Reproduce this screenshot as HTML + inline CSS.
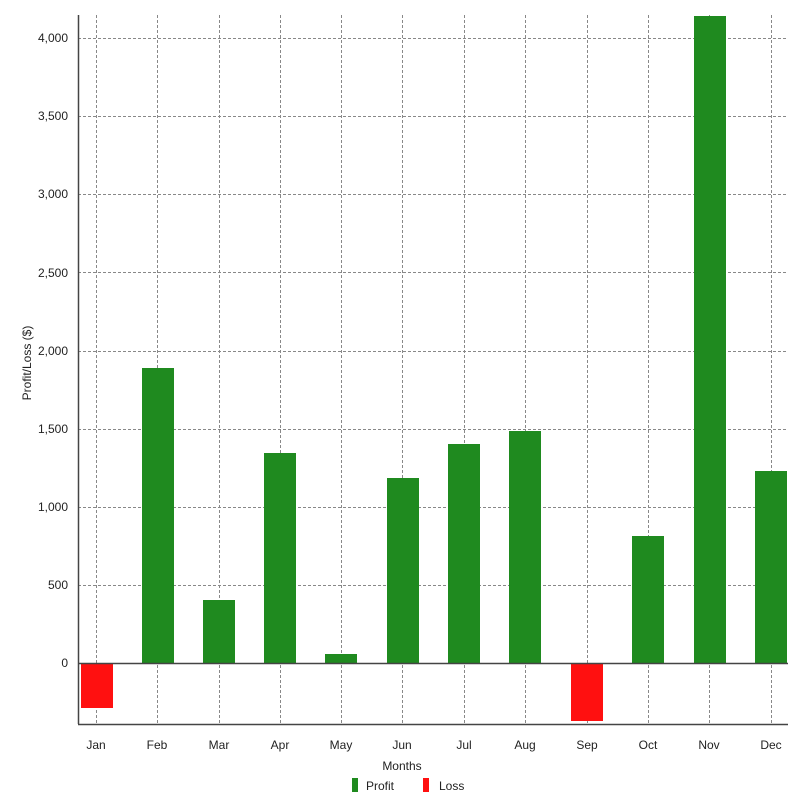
<!DOCTYPE html><html><head><style>body{margin:0;background:#fff}svg{font-family:"Liberation Sans",sans-serif}</style></head><body>
<svg width="802" height="801" xmlns="http://www.w3.org/2000/svg">
<g stroke="#888" stroke-dasharray="3,2" stroke-width="1">
<line x1="78" x2="788" y1="38.5" y2="38.5"/><line x1="78" x2="788" y1="116.5" y2="116.5"/><line x1="78" x2="788" y1="194.5" y2="194.5"/><line x1="78" x2="788" y1="272.5" y2="272.5"/><line x1="78" x2="788" y1="351.5" y2="351.5"/><line x1="78" x2="788" y1="429.5" y2="429.5"/><line x1="78" x2="788" y1="507.5" y2="507.5"/><line x1="78" x2="788" y1="585.5" y2="585.5"/>
<line x1="96.5" x2="96.5" y1="15" y2="724"/><line x1="157.5" x2="157.5" y1="15" y2="724"/><line x1="219.5" x2="219.5" y1="15" y2="724"/><line x1="280.5" x2="280.5" y1="15" y2="724"/><line x1="341.5" x2="341.5" y1="15" y2="724"/><line x1="402.5" x2="402.5" y1="15" y2="724"/><line x1="464.5" x2="464.5" y1="15" y2="724"/><line x1="525.5" x2="525.5" y1="15" y2="724"/><line x1="587.5" x2="587.5" y1="15" y2="724"/><line x1="648.5" x2="648.5" y1="15" y2="724"/><line x1="709.5" x2="709.5" y1="15" y2="724"/><line x1="771.5" x2="771.5" y1="15" y2="724"/>
</g>
<g fill="#1f8a1f">
<rect x="142" y="368" width="32" height="295"/><rect x="203" y="600" width="32" height="63"/><rect x="264" y="453" width="32" height="210"/><rect x="325" y="654" width="32" height="9"/><rect x="387" y="478" width="32" height="185"/><rect x="448" y="444" width="32" height="219"/><rect x="509" y="431" width="32" height="232"/><rect x="632" y="536" width="32" height="127"/><rect x="694" y="16" width="32" height="647"/><rect x="755" y="471" width="32" height="192"/>
</g>
<g fill="#ff1010"><rect x="81" y="663" width="32" height="45"/><rect x="571" y="663" width="32" height="58"/></g>
<line x1="78" x2="788" y1="663.5" y2="663.5" stroke="#444" stroke-width="1.5"/>
<line x1="78.5" x2="78.5" y1="15" y2="724" stroke="#444" stroke-width="1.5"/>
<line x1="78" x2="788" y1="724.5" y2="724.5" stroke="#444" stroke-width="1.5"/>
<g font-size="12" fill="#222" text-anchor="end">
<text x="68" y="42">4,000</text><text x="68" y="120">3,500</text><text x="68" y="198">3,000</text><text x="68" y="277">2,500</text><text x="68" y="355">2,000</text><text x="68" y="433">1,500</text><text x="68" y="511">1,000</text><text x="68" y="589">500</text><text x="68" y="667">0</text>
</g>
<g font-size="12" fill="#222" text-anchor="middle">
<text x="96" y="749">Jan</text><text x="157" y="749">Feb</text><text x="219" y="749">Mar</text><text x="280" y="749">Apr</text><text x="341" y="749">May</text><text x="402" y="749">Jun</text><text x="464" y="749">Jul</text><text x="525" y="749">Aug</text><text x="587" y="749">Sep</text><text x="648" y="749">Oct</text><text x="709" y="749">Nov</text><text x="771" y="749">Dec</text>
<text x="402" y="770">Months</text>
<text transform="translate(31,363) rotate(-90)">Profit/Loss ($)</text>
</g>
<rect x="352" y="778" width="6" height="14" fill="#1f8a1f"/><text x="366" y="790" font-size="12" fill="#222">Profit</text>
<rect x="423" y="778" width="6" height="14" fill="#ff1010"/><text x="439" y="790" font-size="12" fill="#222">Loss</text>
</svg></body></html>
